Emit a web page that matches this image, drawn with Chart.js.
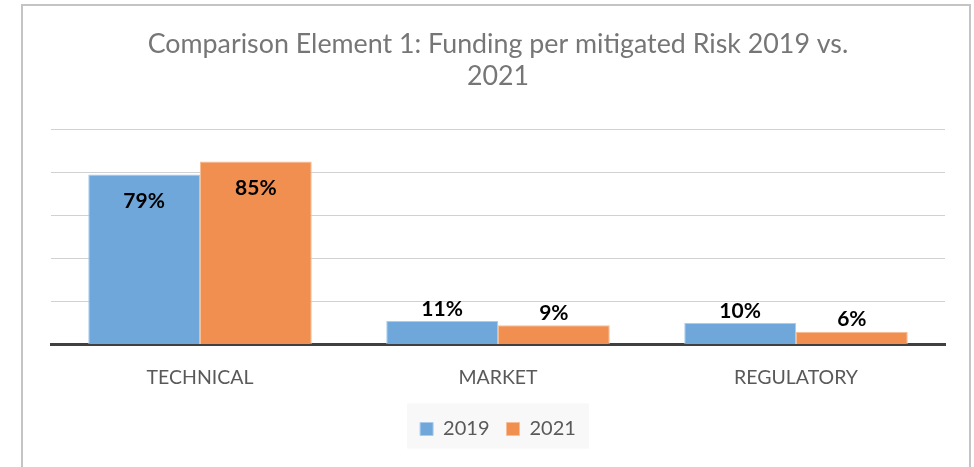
<!DOCTYPE html>
<html>
<head>
<meta charset="utf-8">
<script src="https://cdn.jsdelivr.net/npm/chart.js@4"></script>
<style>
  html, body { margin: 0; padding: 0; background: #fff; }
  #frame {
    position: absolute;
    left: 21px;
    top: 4px;
    width: 950px;
    height: 470px;
    border: 2px solid #c4c4c4;
    box-sizing: border-box;
  }
  #wrap { position: absolute; left: 0; top: 0; width: 948px; height: 466px; }
</style>
</head>
<body>
<div id="frame"><div id="wrap"><canvas id="myChart"></canvas></div></div>
<script>
const categories = ["TECHNICAL", "MARKET", "REGULATORY"];
const values2019 = [79, 11, 10];
const values2021 = [85, 9, 6];
const seriesNames = ["2019", "2021"];
const titleLines = ["Comparison Element 1: Funding per mitigated Risk 2019 vs.", "2021"];

// draws the % labels, inside the bar for tall bars, above it for short ones
const barLabels = {
  id: "barLabels",
  afterDatasetsDraw(chart) {
    const ctx = chart.ctx;
    ctx.save();
    ctx.font = "bold 21px Lato";
    ctx.fillStyle = "#000";
    ctx.textAlign = "center";
    ctx.textBaseline = "middle";
    chart.data.datasets.forEach((ds, i) => {
      chart.getDatasetMeta(i).data.forEach((bar, j) => {
        const v = ds.data[j];
        const y = v > 30 ? bar.y + 27 : bar.y - 12;
        ctx.fillText(v + "%", bar.x, y);
      });
    });
    ctx.restore();
  },
};

// light box behind the legend
const legendBox = {
  id: "legendBox",
  beforeDraw(chart) {
    const l = chart.legend;
    if (!l) return;
    const ctx = chart.ctx;
    ctx.save();
    ctx.fillStyle = "#f8f8f8";
    const w = 182;
    const cx = (chart.chartArea.left + chart.chartArea.right) / 2;
    const cy = l.top + l.height / 2;
    ctx.fillRect(cx - w / 2, cy - 22, w, 45);
    ctx.restore();
  },
};

const ctx = document.getElementById("myChart").getContext("2d");
new Chart(ctx, {
  type: "bar",
  data: {
    labels: categories,
    datasets: [
      {
        label: seriesNames[0],
        data: values2019,
        backgroundColor: "#6fa7db",
        borderColor: "#a9cbec",
        borderWidth: 1,
      },
      {
        label: seriesNames[1],
        data: values2021,
        backgroundColor: "#f08f4f",
        borderColor: "#f7bd95",
        borderWidth: 1,
      },
    ],
  },
  options: {
    responsive: true,
    maintainAspectRatio: false,
    animation: false,
    categoryPercentage: 0.75,
    barPercentage: 1,
    layout: { padding: { left: 28, right: 26, top: 10, bottom: 23 } },
    plugins: {
      title: {
        display: true,
        text: titleLines,
        color: "#767676",
        font: { family: "Lato", size: 26.8, weight: "normal" },
        padding: { top: 12, bottom: 37 },
        lineHeight: 1.45,
      },
      legend: {
        position: "bottom",
        labels: {
          color: "#595959",
          font: { family: "Lato", size: 20 },
          boxWidth: 13,
          boxHeight: 13,
          padding: 17,
        },
      },
      tooltip: { enabled: false },
    },
    scales: {
      x: {
        grid: { display: false },
        border: { display: true, color: "#404040", width: 3 },
        ticks: { color: "#595959", font: { family: "Lato", size: 19.5 }, padding: 13 },
      },
      y: {
        min: 0,
        max: 100,
        z: 1,
        ticks: { display: false, stepSize: 20 },
        border: { display: false },
        grid: { color: "rgba(0,0,0,0.18)", drawTicks: false },
      },
    },
  },
  plugins: [barLabels, legendBox],
});
</script>
</body>
</html>
